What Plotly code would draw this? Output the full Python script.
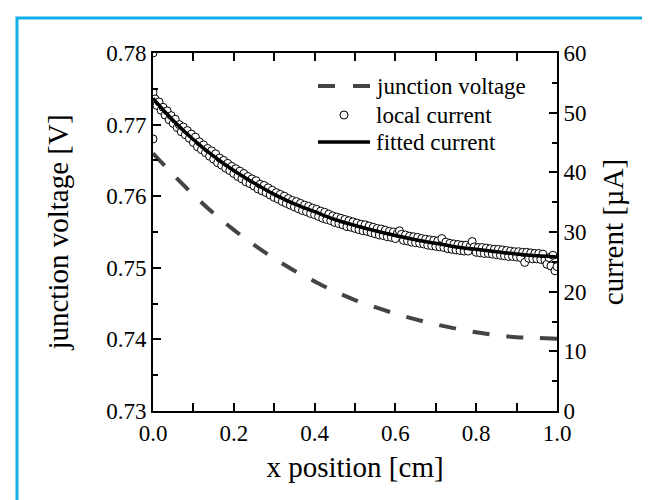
import plotly.graph_objects as go

# ---- data ----
x_grid = [0.0, 0.05, 0.1, 0.15, 0.2, 0.25, 0.3, 0.35, 0.4, 0.45, 0.5,
          0.55, 0.6, 0.65, 0.7, 0.75, 0.8, 0.85, 0.9, 0.95, 1.0]

junction_voltage = [0.7660, 0.7630, 0.7602, 0.7576, 0.7553, 0.7532, 0.7513,
                    0.7496, 0.7481, 0.7467, 0.7455, 0.7445, 0.7436, 0.7428,
                    0.7421, 0.7415, 0.7410, 0.7406, 0.7403, 0.7402, 0.7401]

fitted_current = [52.4, 48.7, 45.5, 42.7, 40.3, 38.2, 36.3, 34.7, 33.4, 32.1, 31.1,
                  30.2, 29.4, 28.7, 28.1, 27.5, 27.1, 26.7, 26.3, 26.0, 25.8]

local_x = [0.0, 0.0] + [round(i * 0.005, 3) for i in range(201)]
local_current = [60.0, 45.6,
    53.4, 52.3, 51.2, 51.8, 50.4, 50.9, 49.6, 50.3, 48.8, 49.5,
    48.2, 48.9, 47.5, 48.0, 46.8, 47.6, 46.3, 47.0, 45.7, 46.4,
    45.0, 45.9, 44.3, 45.1, 43.8, 44.6, 43.3, 44.0, 42.7, 43.6,
    42.2, 43.1, 41.6, 42.4, 41.2, 42.0, 40.7, 41.5, 40.3, 41.0,
    39.8, 40.6, 39.3, 40.2, 38.9, 39.8, 38.4, 39.3, 38.1, 38.9,
    37.7, 38.6, 37.2, 38.0, 36.9, 37.8, 36.6, 37.4, 36.2, 37.0,
    35.8, 36.6, 35.5, 36.3, 35.1, 36.0, 34.8, 35.6, 34.5, 35.3,
    34.2, 35.1, 33.9, 34.8, 33.6, 34.5, 33.4, 34.3, 33.1, 34.0,
    32.9, 33.8, 32.6, 33.5, 32.3, 33.3, 32.1, 33.0, 31.9, 32.7,
    31.6, 32.5, 31.4, 32.3, 31.2, 32.1, 30.9, 31.9, 30.8, 31.7,
    30.6, 31.5, 30.4, 31.3, 30.2, 31.2, 30.1, 31.0, 29.9, 30.8,
    29.7, 30.6, 29.5, 30.5, 29.4, 30.3, 29.2, 30.1, 29.1, 30.0,
    28.9, 29.8, 30.2, 29.6, 28.6, 29.5, 28.5, 29.3, 28.3, 29.2,
    28.2, 29.1, 28.1, 28.9, 28.0, 28.8, 27.8, 28.7, 27.7, 28.6,
    27.6, 28.5, 27.5, 28.9, 27.4, 28.3, 27.2, 28.1, 27.1, 28.0,
    27.0, 27.9, 26.9, 27.8, 26.8, 27.8, 26.8, 27.6, 28.4, 27.5,
    26.6, 27.4, 26.5, 27.4, 26.4, 27.3, 26.4, 27.2, 26.3, 27.1,
    26.2, 27.1, 26.1, 27.0, 26.0, 26.9, 25.9, 26.8, 25.9, 26.7,
    25.8, 26.7, 25.7, 26.6, 24.9, 26.6, 25.6, 26.5, 25.5, 26.4,
    25.5, 26.4, 25.4, 26.3, 25.3, 24.6, 25.7, 24.3, 26.1, 23.5,
    24.2]

legend_labels = ["junction voltage", "local current", "fitted current"]

FONT = "Liberation Serif"
DASH_COLOR = "#444444"

# plot area in pixels (650x500 canvas)
L, R, T, B = 145, 101, 45, 97
PW, PH = 650 - L - R, 500 - T - B


def px(xpix):
    return (xpix - L) / PW


def py(ypix):
    return (500 - B - ypix) / PH


fig = go.Figure()
fig.add_trace(go.Scatter(
    x=x_grid, y=junction_voltage, name=legend_labels[0], mode="lines",
    line=dict(color=DASH_COLOR, width=4, dash="17px,17px", shape="spline"),
    yaxis="y", showlegend=False))
fig.add_trace(go.Scatter(
    x=local_x, y=local_current, name=legend_labels[1], mode="markers",
    marker=dict(symbol="circle", size=8, color="white",
                line=dict(color="black", width=1)),
    yaxis="y2", showlegend=False))
fig.add_trace(go.Scatter(
    x=x_grid, y=fitted_current, name=legend_labels[2], mode="lines",
    line=dict(color="black", width=3.5, shape="spline"),
    yaxis="y2", showlegend=False))

axis_common = dict(
    showgrid=False, zeroline=False, showline=True, linecolor="black",
    linewidth=2, ticks="inside", ticklen=8, tickwidth=1.5, tickcolor="black",
    tickfont=dict(family=FONT, size=23, color="black"),
)

fig.update_layout(
    width=650, height=500, autosize=False,
    margin=dict(l=L, r=R, t=T, b=B),
    paper_bgcolor="white", plot_bgcolor="white",
    font=dict(family=FONT, color="black"),
    showlegend=False,
    xaxis=dict(range=[0, 1], dtick=0.2, tickformat=".1f", mirror="allticks",
               minor=dict(dtick=0.1, ticks="inside", ticklen=5, tickwidth=1.5,
                          tickcolor="black"),
               title=dict(text="x position [cm]", font=dict(family=FONT, size=29),
                          standoff=12),
               **axis_common),
    yaxis=dict(range=[0.73, 0.78], dtick=0.01, tickformat=".2f",
               minor=dict(dtick=0.005, ticks="inside", ticklen=5, tickwidth=1.5,
                          tickcolor="black"),
               title=dict(text="junction voltage [V]",
                          font=dict(family=FONT, size=29), standoff=29),
               **axis_common),
    yaxis2=dict(range=[0, 60], dtick=10, overlaying="y", side="right",
                minor=dict(dtick=5, ticks="inside", ticklen=5, tickwidth=1.5,
                           tickcolor="black"),
                title=dict(text="current [µA]", font=dict(family=FONT, size=29),
                           standoff=17),
                **axis_common),
)

# ---- legend (drawn as layout decorations) ----
rows = [78, 107, 134]
sym_x0, sym_x1, txt_x = 310, 362, 366
fig.add_shape(type="line", xref="paper", yref="paper",
              x0=px(sym_x0), x1=px(sym_x1), y0=py(rows[0]), y1=py(rows[0]),
              line=dict(color=DASH_COLOR, width=4, dash="17px,18px"))
cx = (sym_x0 + sym_x1) / 2
fig.add_shape(type="circle", xref="paper", yref="paper",
              x0=px(cx - 4), x1=px(cx + 4), y0=py(rows[1] + 4), y1=py(rows[1] - 4),
              line=dict(color="black", width=1), fillcolor="white")
fig.add_shape(type="line", xref="paper", yref="paper",
              x0=px(sym_x0), x1=px(sym_x1), y0=py(rows[2]), y1=py(rows[2]),
              line=dict(color="black", width=3.5))
for label, row in zip(legend_labels, rows):
    fig.add_annotation(text=label, xref="paper", yref="paper",
                       x=px(txt_x), y=py(row), xanchor="left", yanchor="middle",
                       showarrow=False, font=dict(family=FONT, size=23, color="black"))

# cyan frame around the figure (open at the bottom)
fig.add_shape(type="path", xref="paper", yref="paper",
              path=f"M {px(9)},{py(530)} L {px(9)},{py(10)} L {px(641)},{py(10)} L {px(641)},{py(530)}",
              line=dict(color="#10AEE8", width=3), layer="above")

fig.write_html("out.html")
